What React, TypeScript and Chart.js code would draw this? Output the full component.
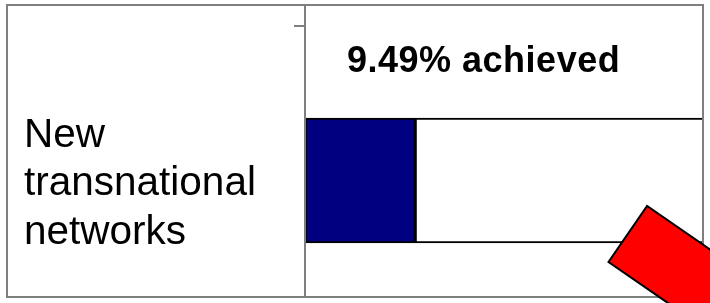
import React, { useEffect, useRef } from 'react';
import { Chart, registerables } from 'chart.js';

Chart.register(...registerables);

const categories = [["New", "transnational", "networks"]];
const achieved = [9.49];
const remaining = [90.51];
const axisMax = 34.3;
const titleText = `${achieved[0]}% achieved`;

const decorPlugin = {
  id: 'decor',
  beforeDraw(chart: any) {
    const { ctx, width, height } = chart;
    ctx.save();
    ctx.fillStyle = '#ffffff';
    ctx.fillRect(0, 0, width, height);
    ctx.restore();
    // small downward nudge for the category label block
    ctx.save();
    ctx.translate(0, 3.5);
  },
  beforeDatasetsDraw(chart: any) {
    chart.ctx.restore();
  },
  afterDraw(chart: any) {
    const { ctx, chartArea } = chart;
    ctx.save();
    ctx.strokeStyle = '#7f7f7f';
    ctx.lineWidth = 2;
    ctx.strokeRect(7, 5, 696, 292);
    ctx.beginPath();
    ctx.moveTo(chartArea.left, 5);
    ctx.lineTo(chartArea.left, 297);
    ctx.stroke();
    ctx.beginPath();
    ctx.moveTo(chartArea.left - 11, 26);
    ctx.lineTo(chartArea.left, 26);
    ctx.stroke();

    ctx.fillStyle = '#000';
    ctx.font = 'bold 36px "Liberation Sans", Arial, sans-serif';
    (ctx as any).letterSpacing = '0.5px';
    ctx.textBaseline = 'alphabetic';
    ctx.textAlign = 'left';
    ctx.fillText(titleText, chartArea.left + 42, 72);
    (ctx as any).letterSpacing = '0px';

    // red pointer decoration
    const ux = 0.823, uy = 0.568, L = 160;
    const ax = 647, ay = 206, bx = 608.5, by = 262;
    ctx.beginPath();
    ctx.moveTo(ax, ay);
    ctx.lineTo(bx, by);
    ctx.lineTo(bx + L * ux, by + L * uy);
    ctx.lineTo(ax + L * ux, ay + L * uy);
    ctx.closePath();
    ctx.fillStyle = '#ff0000';
    ctx.fill();
    ctx.strokeStyle = '#000';
    ctx.lineWidth = 2;
    ctx.stroke();
    ctx.restore();
  },
};

export default function App() {
  const ref = useRef<HTMLCanvasElement | null>(null);
  useEffect(() => {
    if (!ref.current) return;
    const chart = new Chart(ref.current, {
      type: 'bar',
      data: {
        labels: categories,
        datasets: [
          {
            label: 'Achieved',
            data: achieved,
            backgroundColor: '#000080',
            borderColor: '#000000',
            borderWidth: 2,
            borderSkipped: false,
            barThickness: 125,
            clip: 0,
          },
          {
            label: 'Remaining',
            data: remaining,
            backgroundColor: '#ffffff',
            borderColor: '#000000',
            borderWidth: 2,
            borderSkipped: false,
            barThickness: 125,
            clip: 0,
          },
        ],
      },
      options: {
        indexAxis: 'y',
        responsive: false,
        animation: false,
        layout: { padding: { left: 24, right: 7, top: 64, bottom: 6 } },
        plugins: {
          legend: { display: false },
          tooltip: { enabled: false },
          title: { display: false },
        },
        scales: {
          x: { type: 'linear', min: 0, max: axisMax, stacked: true, display: false },
          y: {
            stacked: true,
            grid: { display: false },
            border: { display: false },
            afterFit: (scale: any) => {
              scale.width = 281;
              scale.paddingTop = 0;
              scale.paddingBottom = 0;
            },
            ticks: {
              crossAlign: 'far',
              padding: 0,
              color: '#000',
              font: { family: '"Liberation Sans", Arial, sans-serif', size: 40.5, lineHeight: 1.2 },
            },
          },
        },
      },
      plugins: [decorPlugin],
    } as any);
    return () => chart.destroy();
  }, []);
  return (
    <div style={{ position: 'fixed', left: 0, top: 0, width: 710, height: 303 }}>
      <canvas ref={ref} width={710} height={303} />
    </div>
  );
}
